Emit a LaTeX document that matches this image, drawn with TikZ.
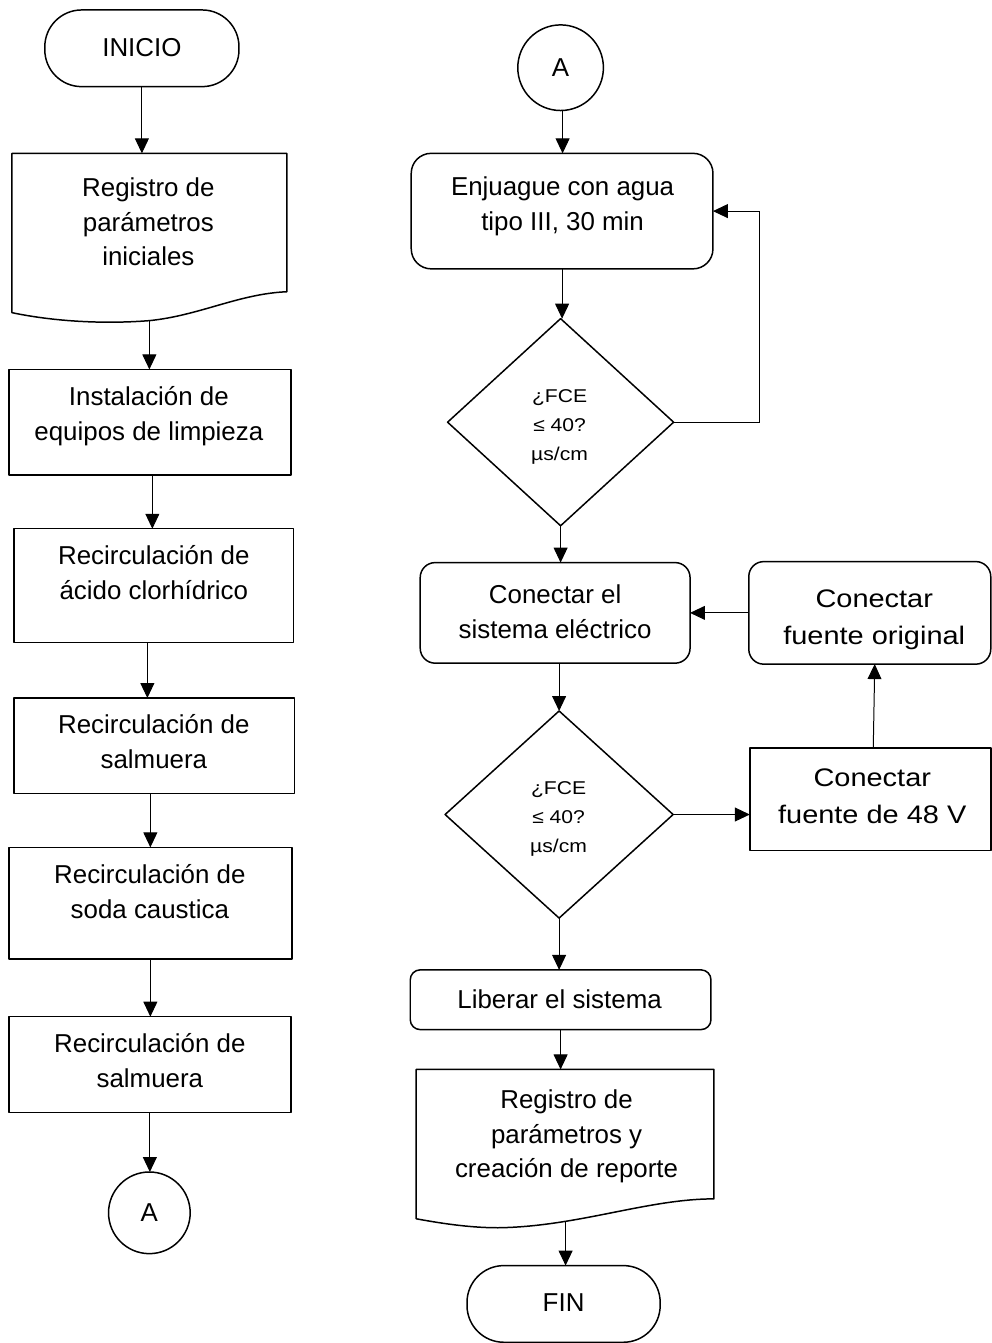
\documentclass[tikz,border=0pt]{standalone}
\usepackage{fontspec}
\setmainfont{Liberation Sans}
\newfontfamily\widesans{Liberation Sans}[FakeStretch=1.14]
\usetikzlibrary{shapes.geometric,arrows.meta}

\begin{document}
\begin{tikzpicture}[x=1pt,y=-1pt,
  shapeline/.style={draw=black,line width=1.5pt,line join=round},
  base/.style={shapeline,inner sep=0pt,outer sep=0pt},
  proc/.style={base,rectangle},
  rproc/.style={base,rectangle,rounded corners=#1},
  term/.style={base,rectangle,rounded corners=37pt},
  conn/.style={base,circle},
  decision/.style={base,diamond},
  hold/.style={inner sep=0pt,outer sep=0pt},
  % text nodes are placed by the baseline of their last line
  txt/.style={font=\fontsize{26}{35}\selectfont,align=center,inner sep=0pt,anchor=base},
  bigtxt/.style={font=\widesans\fontsize{25.5}{37}\selectfont,align=center,inner sep=0pt,anchor=base},
  smalltxt/.style={font=\widesans\fontsize{18.6}{29}\selectfont,align=center,inner sep=0pt,anchor=base},
  flow/.style={line width=1pt,-{Triangle[length=15pt,width=14pt]}}]

\fill[white] (0,0) rectangle (996,1343);

% ---------- left column ----------
\node[term,minimum width=195,minimum height=77] (start) at (142.5,48.5) {};
\node[txt] (tstart) at (142.5,57) {INICIO};

\node[hold,minimum width=276,minimum height=160] (doc1) at (150,234) {};
\draw[shapeline] (doc1.south west) -- (doc1.north west) -- (doc1.north east) -- ++(0,139)
  .. controls (240,295) and (200,317) .. (150,322)
  .. controls (100,326) and (50,322) .. (doc1.south west) -- cycle;
\coordinate (doc1out) at (150,321);
\node[txt] (tdoc1) at (149,267) {Registro de\\parámetros\\iniciales};

\node[proc,minimum width=283,minimum height=106] (inst) at (150.5,424) {};
\node[txt] (tinst) at (149.5,442) {Instalación de\\equipos de limpieza};

\node[proc,minimum width=281,minimum height=114] (acid) at (154.5,588) {};
\node[txt] (tacid) at (154.5,602) {Recirculación de\\ácido clorhídrico};

\node[proc,minimum width=282,minimum height=96] (salm) at (155,749) {};
\node[txt] (tsalm) at (154.5,772) {Recirculación de\\salmuera};

\node[proc,minimum width=284,minimum height=112] (soda) at (151,907) {};
\node[txt] (tsoda) at (150.5,922) {Recirculación de\\soda caustica};

\node[proc,minimum width=283,minimum height=96] (salmb) at (150.5,1069) {};
\node[txt] (tsalmb) at (150.5,1092) {Recirculación de\\salmuera};

\node[conn,minimum size=82] (goA) at (150,1218) {};
\node[txt] (tgoA) at (150,1227) {A};

% ---------- right column ----------
\node[conn,minimum size=86] (fromA) at (563,68) {};
\node[txt] (tfromA) at (563,77) {A};

\node[rproc=20pt,minimum width=303,minimum height=116] (rinse) at (564.5,212) {};
\node[txt] (trinse) at (565,231) {Enjuague con agua\\tipo III, 30 min};

\node[decision,minimum width=227,minimum height=208] (qa) at (563,424) {};
\node[smalltxt] (tqa) at (562,462) {¿FCE\\≤ 40?\\µs/cm};

\node[rproc=15pt,minimum width=271,minimum height=101] (elec) at (557.5,615.5) {};
\node[txt] (telec) at (557.5,641) {Conectar el\\sistema eléctrico};

\node[rproc=15pt,minimum width=243,minimum height=103] (orig) at (873.5,615.5) {};
\node[bigtxt] (torig) at (878,647) {Conectar\\fuente original};

\node[decision,minimum width=229,minimum height=208] (qb) at (561.5,818) {};
\node[smalltxt] (tqb) at (561,856) {¿FCE\\≤ 40?\\µs/cm};

\node[proc,minimum width=242,minimum height=103] (volt) at (874,802.5) {};
\node[bigtxt] (tvolt) at (876,827) {Conectar\\fuente de 48 V};

\node[rproc=10pt,minimum width=302,minimum height=60] (release) at (563,1004) {};
\node[txt] (trelease) at (562,1013) {Liberar el sistema};

\node[hold,minimum width=299,minimum height=150] (doc2) at (567.5,1149) {};
\draw[shapeline] (doc2.south west) -- (doc2.north west) -- (doc2.north east) -- ++(0,130)
  .. controls (650,1204) and (580,1232) .. (500,1233)
  .. controls (470,1233) and (440,1228) .. (doc2.south west) -- cycle;
\coordinate (doc2out) at (568,1227);
\node[txt] (tdoc2) at (569,1183) {Registro de\\parámetros y\\creación de reporte};

\node[term,minimum width=194,minimum height=77] (finish) at (566,1309.5) {};
\node[txt] (tfinish) at (566,1317) {FIN};

% ---------- connectors ----------
\draw[flow] (start.south) -- (start.south |- doc1.north);
\draw[flow] (doc1out) -- (doc1out |- inst.north);
\draw[flow] ([xshift=2.5pt]inst.south) -- ([xshift=2.5pt]inst.south |- acid.north);
\draw[flow] ([xshift=-6.5pt]acid.south) -- ([xshift=-6.5pt]acid.south |- salm.north);
\draw[flow] ([xshift=-4pt]salm.south) -- ([xshift=-4pt]salm.south |- soda.north);
\draw[flow] (soda.south) -- (soda.south |- salmb.north);
\draw[flow] (salmb.south) -- (salmb.south |- goA.north);

\draw[flow] ([xshift=2pt]fromA.south) -- ([xshift=2pt]fromA.south |- rinse.north);
\draw[flow] (rinse.south) -- (rinse.south |- qa.north);
\coordinate (loop) at (763,212);
\draw[flow] (qa.east) -| (loop) -- (rinse.east);
\draw[flow] (qa.south) -- (qa.south |- elec.north);
\draw[flow] (qb.north |- elec.south) -- (qb.north);
\draw[flow] (qb.east) -- (qb.east -| volt.west);
\draw[flow] ([xshift=3pt]volt.north) -- ([xshift=5pt]orig.south);
\draw[flow] (orig.west) -- (elec.east);
\draw[flow] (qb.south) -- (qb.south |- release.north);
\draw[flow] (release.south) -- (release.south |- doc2.north);
\draw[flow] (doc2out) -- (doc2out |- finish.north);

\end{tikzpicture}
\end{document}
